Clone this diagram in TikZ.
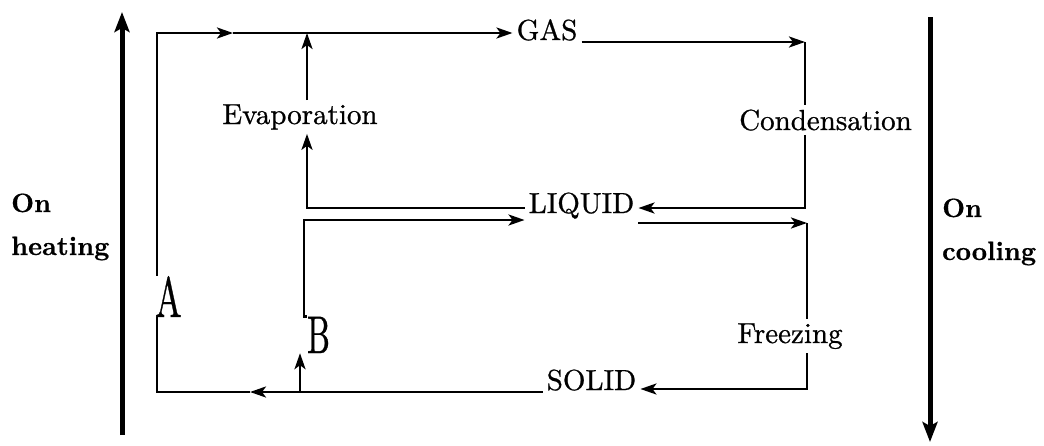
\documentclass[tikz,border=0pt]{standalone}
\usepackage{fontspec}
\setmainfont{lmroman10-regular.otf}[BoldFont=lmroman10-bold.otf]
\newfontfamily\lblfont{lmroman10-regular.otf}[FakeBold=0.8]
\newfontfamily\sidefont{lmroman10-bold.otf}[FakeBold=0.6]
\usepackage{graphicx}
\usetikzlibrary{arrows.meta}
\tikzset{
 lbl/.style={font=\lblfont\fontsize{29}{34}\selectfont, inner sep=4pt, anchor=base},
 conn/.style={line width=2.6pt, line join=miter},
 tipc/.style={-{Stealth[length=16pt,width=11pt,inset=4pt]}},
 big/.style={line width=5pt, -{Stealth[length=20pt,width=15pt,inset=4pt]}},
 side/.style={font=\sidefont\fontsize{26.5}{43}\selectfont, align=left, inner sep=0pt, anchor=base west},
 letter/.style={inner sep=0pt, anchor=base, font=\lblfont},
}
\begin{document}
\begin{tikzpicture}[x=1pt,y=-1pt]
\useasboundingbox (0,0) rectangle (1044,445);
% text nodes
\node[lbl] (gas) at (547,40) {GAS};
\node[lbl] (evap) at (300,124) {Evaporation};
\node[lbl] (cond) at (825.5,130) {Condensation};
\node[lbl] (liquid) at (581.5,213) {LIQUID};
\node[lbl] (freez) at (790,343) {Freezing};
\node[lbl] (solid) at (591.5,390) {SOLID};
\node[letter] (A) at (168.5,317) {\scalebox{0.62}[1]{\fontsize{57}{60}\selectfont A}};
\node[letter] (B) at (318.5,353) {\scalebox{0.61}[1]{\fontsize{53}{56}\selectfont B}};
\node[side] (onheat) at (11,255) {On\\heating};
\node[side] (oncool) at (942,260) {On\\cooling};
% corner coordinates
\coordinate (tl) at (157,33);
\coordinate (ta) at (233,33);
\coordinate (gr) at (805,42);
\coordinate (cr) at (805,208);
\coordinate (el) at (307,208);
\coordinate (ml) at (304,220);
\coordinate (fr) at (807,223);
\coordinate (sr) at (807,389);
\coordinate (bl) at (157,392);
\coordinate (ba) at (250,392);
\coordinate (sb) at (300,392);
\coordinate (hb) at (122,435);
\coordinate (ht) at (122,12);
\coordinate (ct) at (930,17);
\coordinate (cb) at (930,442);
% big side arrows
\draw[big] (hb) -- (ht);
\draw[big] (ct) -- (cb);
% A -> gas
\draw[conn,tipc] (tl |- A.north) -- (tl) -- (ta);
\draw[conn,tipc] (ta) -- (gas.west |- ta);
% gas -> condensation -> liquid
\draw[conn,tipc] (gas.east |- gr) -- (gr);
\draw[conn] (gr) -- (gr |- cond.north);
\draw[conn,tipc] (gr |- cond.south) -- (cr) -- (liquid.east |- cr);
% liquid -> evaporation -> gas
\draw[conn,tipc] (liquid.west |- el) -- (el) -- (el |- evap.south);
\draw[conn,tipc] (el |- evap.north) -- (el |- tl);
% B -> liquid
\draw[conn,tipc] (B.north west) -| (ml) -- (liquid.west |- ml);
% liquid -> freezing -> solid
\draw[conn,tipc] (liquid.east |- fr) -- (fr);
\draw[conn] (fr) -- (fr |- freez.north);
\draw[conn,tipc] (fr |- freez.south) -- (sr) -- (solid.east |- sr);
% solid -> A
\draw[conn,tipc] (solid.west |- bl) -- (ba);
\draw[conn] (ba) -- (bl) -- (tl |- A.south);
% solid -> B
\draw[conn,tipc] (sb) -- (sb |- B.south);
\end{tikzpicture}
\end{document}
